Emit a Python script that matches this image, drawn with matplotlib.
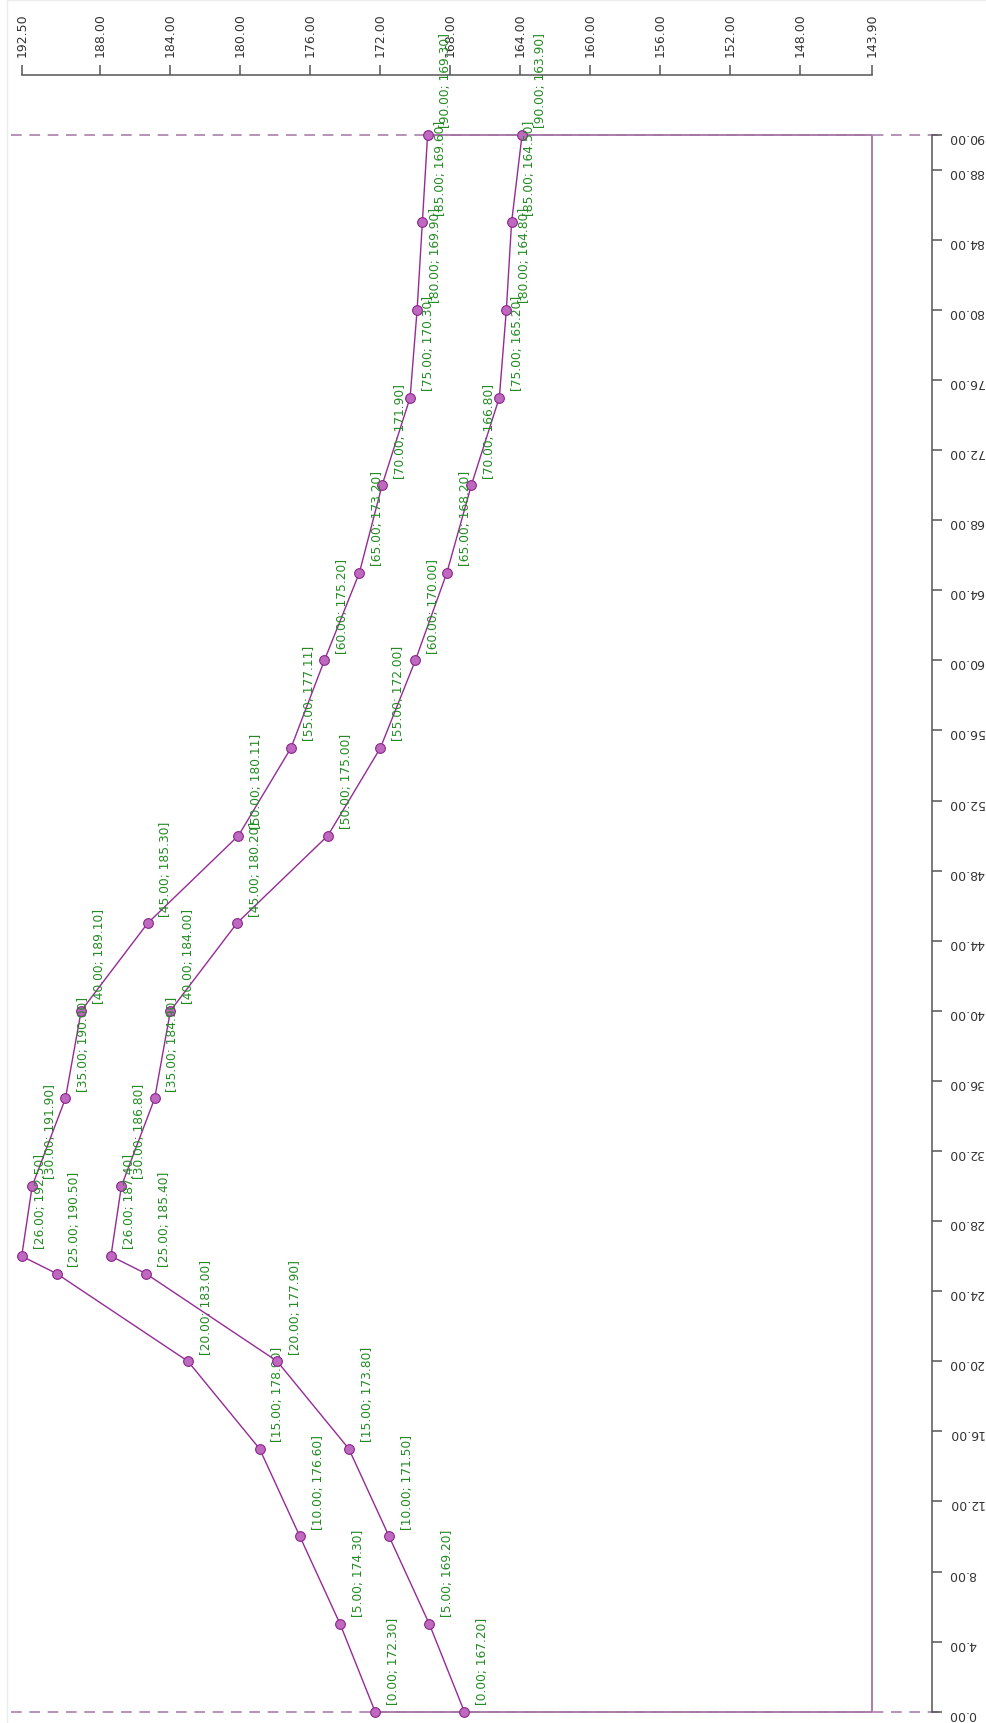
import numpy as np
import matplotlib
matplotlib.use("Agg")
import matplotlib.pyplot as plt
import matplotlib.transforms as mtransforms
from matplotlib.lines import Line2D

# data: x = position (vertical axis), y = value (horizontal axis, reversed)
pos_a = [0, 5, 10, 15, 20, 25, 26, 30, 35, 40, 45, 50, 55, 60, 65, 70, 75, 80, 85, 90]
val_a = [172.30, 174.30, 176.60, 178.90, 183.00, 190.50, 192.50, 191.90, 190.00, 189.10,
         185.30, 180.11, 177.11, 175.20, 173.20, 171.90, 170.30, 169.90, 169.60, 169.30]
pos_b = [0, 5, 10, 15, 20, 25, 26, 30, 35, 40, 45, 50, 55, 60, 65, 70, 75, 80, 85, 90]
val_b = [167.20, 169.20, 171.50, 173.80, 177.90, 185.40, 187.40, 186.80, 184.90, 184.00,
         180.20, 175.00, 172.00, 170.00, 168.20, 166.80, 165.20, 164.80, 164.50, 163.90]

val_ticks = [192.50, 188.00, 184.00, 180.00, 176.00, 172.00, 168.00, 164.00,
             160.00, 156.00, 152.00, 148.00, 143.90]
pos_ticks = [0, 4, 8, 12, 16, 20, 24, 28, 32, 36, 40, 44, 48, 52, 56, 60, 64,
             68, 72, 76, 80, 84, 88, 90]

line_col = '#962a96'
mk_face = '#bf68bf'
mk_edge = '#8a268a'
frame_col = '#a474a4'
text_col = '#238a23'
axis_col = '#555555'
tick_txt = '#333333'

fig = plt.figure(figsize=(9.87, 17.24), dpi=100)
# faint window border seen in the reference
fig.add_artist(Line2D([7 / 987, 7 / 987], [0, 1], color='#ececec', lw=1))
fig.add_artist(Line2D([7 / 987, 1], [0.9995, 0.9995], color='#ececec', lw=1))

ax = fig.add_axes([21.7 / 987, (1724 - 1712.7) / 1724,
                   (872 - 21.7) / 987, (1712.7 - 135.7) / 1724])
ax.set_xlim(max(val_ticks), min(val_ticks))
ax.set_ylim(min(pos_ticks), max(pos_ticks))

# dashed lines across the full width at the first and last position
trans = mtransforms.blended_transform_factory(ax.transAxes, ax.transData)
for p in (pos_a[0], pos_a[-1]):
    ax.plot([-0.0126, 1.086], [p, p], transform=trans, color=frame_col,
            lw=1.1, dashes=(7, 5), clip_on=False, zorder=1)

# solid outline from series A ends to the right edge
xmin = min(val_ticks)
ax.plot([val_a[0], xmin, xmin, val_a[-1]], [pos_a[0], pos_a[0], pos_a[-1], pos_a[-1]],
        color=frame_col, lw=1.3, clip_on=False, zorder=2)

z = 3
for pos, val in ((pos_a, val_a), (pos_b, val_b)):
    ax.plot(val, pos, color=line_col, lw=1.0, marker='o', ms=7,
            mfc=mk_face, mec=mk_edge, mew=0.8, clip_on=False, zorder=z)
    for p, v in zip(pos, val):
        ax.annotate('[%.2f; %.2f]' % (p, v), (v, p), xytext=(8.5, 5.5),
                    textcoords='offset points', rotation=90, ha='left', va='bottom',
                    fontsize=8.8, color=text_col, zorder=z + 1, annotation_clip=False)
    z += 2

for s in ('left', 'bottom'):
    ax.spines[s].set_visible(False)
for s in ('top', 'right'):
    ax.spines[s].set_position(('outward', 43))
    ax.spines[s].set_color(axis_col)
    ax.spines[s].set_linewidth(1.1)

ax.xaxis.tick_top()
ax.yaxis.tick_right()
ax.set_xticks(val_ticks)
ax.set_xticklabels(['%.2f' % v for v in val_ticks])
ax.set_yticks(pos_ticks)
ax.set_yticklabels(['%.2f' % v for v in pos_ticks])
ax.tick_params(axis='x', direction='out', length=7, width=1.1, color=axis_col,
               labelrotation=90, labelsize=9, labelcolor=tick_txt, pad=6.5)
ax.tick_params(axis='y', direction='out', length=7, width=1.1, color=axis_col,
               labelrotation=180, labelsize=9, labelcolor=tick_txt, pad=5)
ax.patch.set_visible(False)

fig.savefig('out.png', dpi=100, facecolor='white')
